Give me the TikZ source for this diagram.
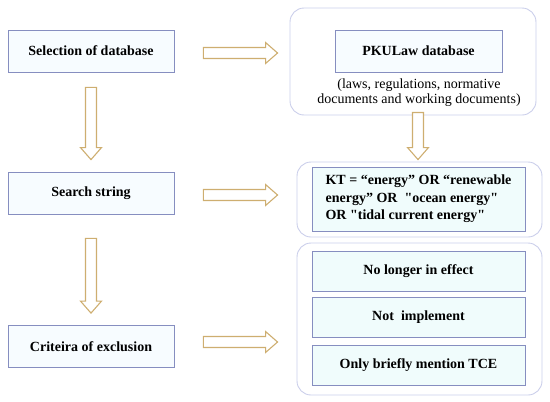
\documentclass[tikz,border=0pt]{standalone}
\usepackage{fontspec}
\setmainfont{Liberation Serif}
\newfontfamily\ktfont{Liberation Serif}
\usetikzlibrary{calc}

\definecolor{boxline}{RGB}{134,142,192}
\definecolor{boxfill}{RGB}{247,252,255}
\definecolor{itemfill}{RGB}{240,252,252}
\definecolor{grpline}{RGB}{202,206,234}
\definecolor{arrline}{RGB}{206,174,112}

\tikzset{
  stepbox/.style={draw=boxline, fill=boxfill, line width=0.8pt, inner sep=0pt,
    minimum width=166pt, minimum height=42pt, font=\fontsize{14}{17}\selectfont\bfseries},
  itembox/.style={stepbox, fill=itemfill, minimum width=213pt, minimum height=40pt},
  groupbox/.style={draw=grpline, line width=0.9pt, rounded corners=14pt, inner sep=0pt},
  hollow/.style={draw=arrline, fill=white, line width=1.1pt, to path={
    ($(\tikztostart)!5.5pt!90:(\tikztotarget)$)
    -- ($($(\tikztotarget)!12pt!(\tikztostart)$)!5.5pt!90:(\tikztotarget)$)
    -- ($($(\tikztotarget)!12pt!(\tikztostart)$)!10.5pt!90:(\tikztotarget)$)
    -- (\tikztotarget)
    -- ($($(\tikztotarget)!12pt!(\tikztostart)$)!10.5pt!-90:(\tikztotarget)$)
    -- ($($(\tikztotarget)!12pt!(\tikztostart)$)!5.5pt!-90:(\tikztotarget)$)
    -- ($(\tikztostart)!5.5pt!-90:(\tikztotarget)$)
    -- cycle}}
}

\begin{document}
\begin{tikzpicture}[x=1pt, y=-1pt, font=\fontsize{14}{17}\selectfont]
  \useasboundingbox (0,0) rectangle (550,402);

  % steps on the left
  \node[stepbox] (sel) at (91,51) {Selection of database};
  \node[stepbox] (srch) at (91,193) {Search string};
  \node[stepbox] (crit) at (91,346.5) {Criteira of exclusion};

  % groups on the right
  \node[groupbox, minimum width=246pt, minimum height=107pt] (g1) at (413,61.5) {};
  \node[stepbox, minimum width=167pt] (pku) at (418.5,51) {PKULaw database};
  \node[align=center, font=\fontsize{14}{15.5}\selectfont] (pkunote) at (419,92.5)
    {(laws, regulations, normative\\documents and working documents)};

  \node[groupbox, minimum width=245pt, minimum height=75pt] (g2) at (419.5,199.5) {};
  \node[itembox, minimum height=64pt, align=left,
    font=\fontsize{14}{17.5}\selectfont\ktfont\bfseries] (kt) at (418.5,199)
    {KT = “energy” OR “renewable\\energy” OR\ \ "ocean energy"\\OR "tidal current energy"};

  \node[groupbox, minimum width=245pt, minimum height=152pt] (g3) at (419.5,319) {};
  \node[itembox] (ex1) at (418.5,271.5) {No longer in effect};
  \node[itembox] (ex2) at (418.5,317) {Not\ \ implement};
  \node[itembox] (ex3) at (418.5,365.5) {Only briefly mention TCE};

  % arrows
  \draw[hollow] ($(sel.south)+(0,15)$) to ($(srch.north)+(0,-12)$);
  \draw[hollow] ($(srch.south)+(0,24)$) to ($(crit.north)+(0,-12)$);
  \draw[hollow] ($(sel.east)+(29,2)$) to ($(g1.west |- sel.east)+(-12,2)$);
  \draw[hollow] ($(srch.east)+(29,2)$) to ($(g2.west |- srch.east)+(-19,2)$);
  \draw[hollow] ($(crit.east)+(29,-4.5)$) to ($(g3.west |- crit.east)+(-19,-4.5)$);
  \draw[hollow] ($(g1.south)+(5,-3)$) to ($(g2.north)+(-1.5,-2)$);
\end{tikzpicture}
\end{document}
